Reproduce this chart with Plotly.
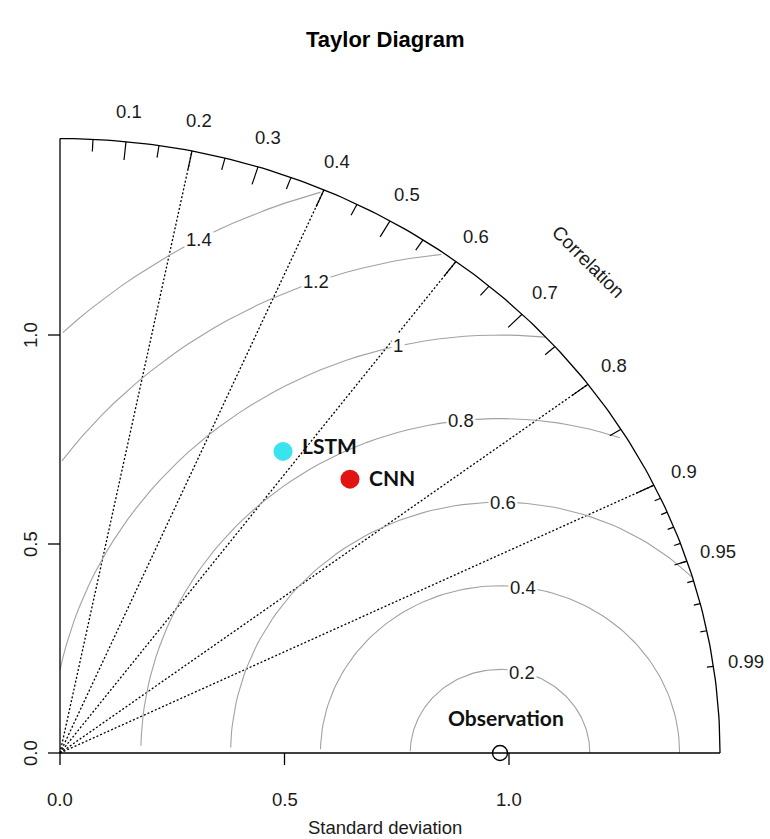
import numpy as np
import plotly.graph_objects as go

# ---- statistics -----------------------------------------------------------
OBS_SD = 0.98                       # standard deviation of the observations
MODEL_NAMES = ["LSTM", "CNN"]
MODEL_SD = [0.876, 0.920]
MODEL_COR = [0.567, 0.702]
MODEL_COLORS = ["#3ae4ee", "#e21313"]

# centred RMS-difference contours
GAMMA_LEVELS = [0.2, 0.4, 0.6, 0.8, 1.0, 1.2, 1.4]
GAMMA_TEXT = ["0.2", "0.4", "0.6", "0.8", "1", "1.2", "1.4"]

# correlation scale on the outer arc
CORR_BIG = [0.1, 0.2, 0.3, 0.4, 0.5, 0.6, 0.7, 0.8, 0.9]
CORR_MED = [0.05, 0.15, 0.25, 0.35, 0.45, 0.55, 0.65, 0.75, 0.85, 0.95]
CORR_SMALL = [0.91, 0.92, 0.93, 0.94, 0.95, 0.96, 0.97, 0.98, 0.99]
CORR_LABEL_VALS = [0.1, 0.2, 0.3, 0.4, 0.5, 0.6, 0.7, 0.8, 0.9, 0.95, 0.99]
CORR_LABEL_TEXT = ["0.1", "0.2", "0.3", "0.4", "0.5", "0.6", "0.7", "0.8", "0.9", "0.95", "0.99"]
CORR_LINES = [0.2, 0.4, 0.6, 0.8, 0.9]

# standard deviation axes
SD_TICKS = [0.0, 0.5, 1.0]
SD_TICK_TEXT = ["0.0", "0.5", "1.0"]

# ---- page geometry --------------------------------------------------------
W, H = 770, 839
X0_PX, Y0_PX = 60, 753          # where the origin sits on the page
PX_PER_X, PX_PER_Y = 449, 418   # pixels per unit of standard deviation
MAXSD = 1.5 * OBS_SD

AXIS_FONT = "Liberation Sans, Arial, sans-serif"
LABEL_FONT = "Lato, Open Sans, sans-serif"
TEXT_COLOR = "#1a1a1a"


def polar(sd, cor):
    cor = np.asarray(cor, dtype=float)
    return sd * cor, sd * np.sqrt(1 - cor ** 2)


def segments(pairs):
    xs, ys = [], []
    for (xa, ya), (xb, yb) in pairs:
        xs += [xa, xb, None]
        ys += [ya, yb, None]
    return xs, ys


fig = go.Figure()

# dotted correlation rays
ex, ey = polar(MAXSD, CORR_LINES)
xs, ys = segments([((0, 0), (a, b)) for a, b in zip(ex, ey)])
fig.add_trace(go.Scatter(x=xs, y=ys, mode="lines",
                         line=dict(color="black", width=1.3, dash="2px,2px")))

# RMS-difference contours around the observation point
t = np.arange(0, np.pi, 0.03)
for g in GAMMA_LEVELS:
    xc = np.cos(t) * g + OBS_SD
    yc = np.sin(t) * g
    neg = np.where(xc < 0)[0]
    end = neg.min() - 1 if len(neg) else len(t) - 1
    out = np.where(xc ** 2 + yc ** 2 > MAXSD ** 2)[0]
    start = out.max() + 1 if len(out) else 0
    fig.add_trace(go.Scatter(x=xc[start:end + 1], y=yc[start:end + 1], mode="lines",
                             line=dict(color="#a2a2a2", width=1.1)))

# standard deviation axes with their ticks
xs, ys = segments([((0, 0), (0, MAXSD)), ((0, 0), (MAXSD, 0))])
tick_x = 12 / PX_PER_X
tick_y = 12 / PX_PER_Y
for v in SD_TICKS:
    a, b = segments([((v, 0), (v, -tick_y)), ((0, v), (-tick_x, v))])
    xs += a
    ys += b
fig.add_trace(go.Scatter(x=xs, y=ys, mode="lines", line=dict(color="black", width=1.3)))

# outer correlation arc
arc = np.clip(np.arange(0, np.pi / 2 + 0.01, 0.01), 0, np.pi / 2)
fig.add_trace(go.Scatter(x=np.cos(arc) * MAXSD, y=np.sin(arc) * MAXSD, mode="lines",
                         line=dict(color="black", width=1.3)))

# correlation ticks (three lengths)
pairs = []
for vals, frac in ((CORR_BIG, 0.97), (CORR_MED, 0.98), (CORR_SMALL, 0.99)):
    ox, oy = polar(MAXSD, vals)
    ix, iy = polar(MAXSD * frac, vals)
    pairs += [((a, b), (c, d)) for a, b, c, d in zip(ox, oy, ix, iy)]
xs, ys = segments(pairs)
fig.add_trace(go.Scatter(x=xs, y=ys, mode="lines", line=dict(color="black", width=1.2)))

# observation reference point
fig.add_trace(go.Scatter(x=[OBS_SD], y=[0], mode="markers",
                         marker=dict(symbol="circle-open", size=15, color="black",
                                     line=dict(width=1.4))))

# model points
mx, my = [], []
for sd, cor in zip(MODEL_SD, MODEL_COR):
    a, b = polar(sd, cor)
    mx.append(float(a))
    my.append(float(b))
fig.add_trace(go.Scatter(x=mx, y=my, mode="markers",
                         marker=dict(size=19, color=MODEL_COLORS, line=dict(width=0))))

annotations = []

# correlation labels
lx, ly = polar(1.05 * MAXSD, CORR_LABEL_VALS)
for a, b, txt in zip(lx, ly, CORR_LABEL_TEXT):
    annotations.append(dict(x=float(a), y=float(b), text=txt, showarrow=False,
                            font=dict(family=AXIS_FONT, size=18.5, color=TEXT_COLOR)))
annotations.append(dict(x=0.8 * MAXSD, y=0.8 * MAXSD, text="Correlation", showarrow=False,
                        textangle=45, font=dict(family=AXIS_FONT, size=19, color=TEXT_COLOR)))

# contour labels in white boxes
label_idx = np.floor(np.linspace(45, 70, len(GAMMA_LEVELS))).astype(int) - 1
for g, txt, k in zip(GAMMA_LEVELS, GAMMA_TEXT, label_idx):
    annotations.append(dict(x=float(np.cos(t[k]) * g + OBS_SD), y=float(np.sin(t[k]) * g),
                            text=txt, showarrow=False, bgcolor="white", borderpad=1,
                            font=dict(family=AXIS_FONT, size=18.5, color=TEXT_COLOR)))

# axis tick labels
for v, txt in zip(SD_TICKS, SD_TICK_TEXT):
    annotations.append(dict(x=v, y=0, text=txt, showarrow=False, yshift=-46,
                            font=dict(family=AXIS_FONT, size=18.5, color=TEXT_COLOR)))
    annotations.append(dict(x=0, y=v, text=txt, showarrow=False, xshift=-30, textangle=-90,
                            font=dict(family=AXIS_FONT, size=18.5, color=TEXT_COLOR)))

# model names
name_shift = {"LSTM": (17, 6), "CNN": (17, 2)}
for name, a, b in zip(MODEL_NAMES, mx, my):
    dx, dy = name_shift[name]
    annotations.append(dict(x=a, y=b, text=f"<b>{name}</b>", showarrow=False,
                            xanchor="left", xshift=dx, yshift=dy,
                            font=dict(family=LABEL_FONT, size=21, color="#111111")))
annotations.append(dict(x=OBS_SD, y=0.084, text="<b>Observation</b>", showarrow=False,
                        xshift=6, font=dict(family=LABEL_FONT, size=21, color="#111111")))

# titles
annotations.append(dict(xref="paper", yref="paper", x=0.5, y=1 - 40 / H,
                        xanchor="center", yanchor="middle",
                        text="<b>Taylor Diagram</b>", showarrow=False,
                        font=dict(family=AXIS_FONT, size=22, color="black")))
annotations.append(dict(xref="paper", yref="paper", x=0.5, y=1 - 827 / H,
                        xanchor="center", yanchor="middle",
                        text="Standard deviation", showarrow=False,
                        font=dict(family=AXIS_FONT, size=18.5, color=TEXT_COLOR)))

fig.update_layout(
    width=W, height=H,
    margin=dict(l=0, r=0, t=0, b=0),
    paper_bgcolor="white", plot_bgcolor="white",
    showlegend=False,
    xaxis=dict(range=[-X0_PX / PX_PER_X, (W - X0_PX) / PX_PER_X], visible=False, fixedrange=True),
    yaxis=dict(range=[-(H - Y0_PX) / PX_PER_Y, Y0_PX / PX_PER_Y], visible=False, fixedrange=True),
    annotations=annotations,
)

fig.write_html("out.html")
